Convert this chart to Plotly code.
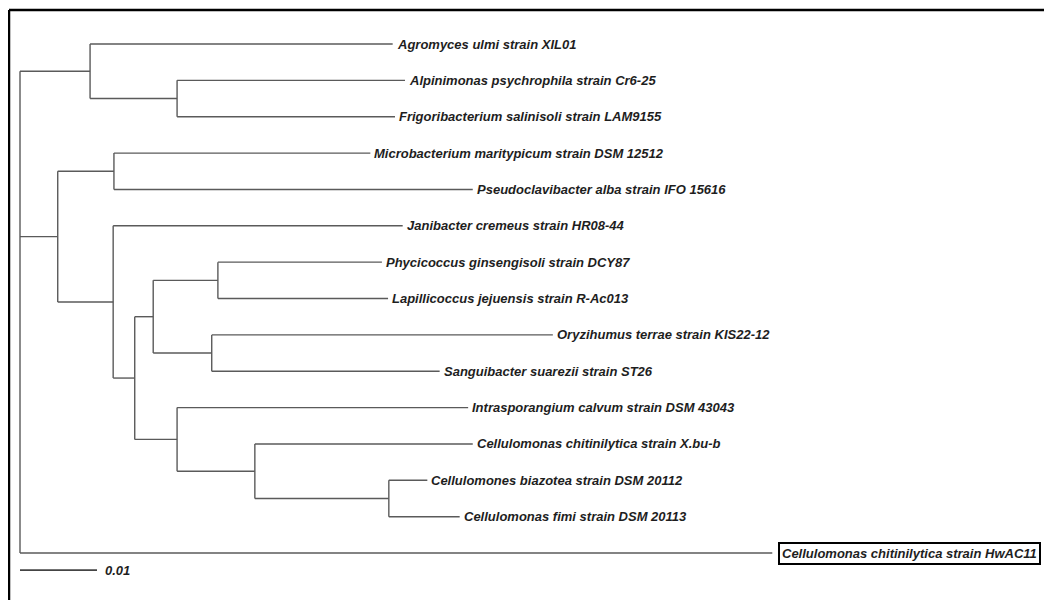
import plotly.graph_objects as go
from collections import defaultdict

# ---- data: leaves in display order (top to bottom) ----
leaf_labels = [
    "Agromyces ulmi strain XIL01",
    "Alpinimonas psychrophila strain Cr6-25",
    "Frigoribacterium salinisoli strain LAM9155",
    "Microbacterium maritypicum strain DSM 12512",
    "Pseudoclavibacter alba strain IFO 15616",
    "Janibacter cremeus strain HR08-44",
    "Phycicoccus ginsengisoli strain DCY87",
    "Lapillicoccus jejuensis strain R-Ac013",
    "Oryzihumus terrae strain KIS22-12",
    "Sanguibacter suarezii strain ST26",
    "Intrasporangium calvum strain DSM 43043",
    "Cellulomonas chitinilytica strain X.bu-b",
    "Cellulomones biazotea strain DSM 20112",
    "Cellulomonas fimi strain DSM 20113",
    "Cellulomonas chitinilytica strain HwAC11",
]
leaf_parents = ["A", "A2", "A2", "Bm", "Bm", "C", "F", "F", "G", "G", "H", "I", "J", "J", "root"]
leaf_lengths = [0.0393, 0.0296, 0.0283, 0.0333, 0.0466, 0.0376, 0.0213, 0.0221,
                0.0443, 0.0296, 0.0378, 0.0283, 0.0050, 0.0092, 0.0977]

# internal nodes
node_names = ["A", "A2", "B", "Bm", "C", "D", "E", "F", "G", "H", "I", "J"]
node_parents = ["root", "A", "root", "B", "B", "C", "D", "E", "E", "D", "H", "I"]
node_lengths = [0.0091, 0.0113, 0.0049, 0.0073, 0.0072, 0.0028, 0.0024, 0.0084,
                0.0076, 0.0055, 0.0101, 0.0174]

highlight_leaf = "Cellulomonas chitinilytica strain HwAC11"
scale_length = 0.01
scale_label = "0.01"

# ---- build tree ----
parent, length = {}, {}
children = defaultdict(list)
for n, p, l in zip(node_names + leaf_labels, node_parents + leaf_parents, node_lengths + leaf_lengths):
    parent[n] = p
    length[n] = l
    children[p].append(n)

row = {name: i for i, name in enumerate(leaf_labels)}

depth = {"root": 0.0}
def set_depth(n):
    for c in children[n]:
        depth[c] = depth[n] + length[c]
        set_depth(c)
set_depth("root")

ypos = {}
def get_y(n):
    if n in row:
        ypos[n] = row[n]
    else:
        ys = [get_y(c) for c in children[n]]
        ypos[n] = (min(ys) + max(ys)) / 2
    return ypos[n]
get_y("root")

xs, ys = [], []
for n in list(parent.keys()):
    p = parent[n]
    xs += [depth[p], depth[n], None]
    ys += [ypos[n], ypos[n], None]
for n in ["root"] + node_names:
    cy = [ypos[c] for c in children[n]]
    xs += [depth[n], depth[n], None]
    ys += [min(cy), max(cy), None]

fig = go.Figure()
fig.add_trace(go.Scatter(x=xs, y=ys, mode="lines",
                         line=dict(color="#5a5a5a", width=1.4),
                         hoverinfo="skip", showlegend=False))

# scale bar
sb_y = 14.47
fig.add_trace(go.Scatter(x=[0, scale_length], y=[sb_y, sb_y], mode="lines",
                         line=dict(color="#444444", width=1.7),
                         hoverinfo="skip", showlegend=False))

font = dict(family="Liberation Sans, Arial, sans-serif", size=13, color="#1e1e1e")
ann = []
for name in leaf_labels:
    boxed = name == highlight_leaf
    ann.append(dict(
        x=depth[name], y=ypos[name], xref="x", yref="y",
        text="<b><i>%s</i></b>" % name, showarrow=False,
        xanchor="left", yanchor="middle", xshift=6 if boxed else 3,
        font=font,
        bordercolor="#000000" if boxed else None,
        borderwidth=2 if boxed else 0,
        borderpad=2 if boxed else 1,
        bgcolor="white" if boxed else None,
    ))
ann.append(dict(x=scale_length, y=sb_y, xref="x", yref="y",
                text="<b><i>%s</i></b>" % scale_label, showarrow=False,
                xanchor="left", yanchor="middle", xshift=6, font=font))

# page body has an 8px margin: compensate in the pixel mapping
W, H = 1052, 600
x0_px, px_per_unit = 12, 7700
y0_px, px_per_row = 36, 36.36
fig.update_layout(
    width=W, height=H,
    margin=dict(l=0, r=0, t=0, b=0),
    paper_bgcolor="white", plot_bgcolor="white",
    xaxis=dict(range=[-x0_px / px_per_unit, (W - x0_px) / px_per_unit],
               visible=False, fixedrange=True),
    yaxis=dict(range=[(H - y0_px) / px_per_row, -y0_px / px_per_row],
               visible=False, fixedrange=True),
    annotations=ann,
    shapes=[
        dict(type="line", xref="paper", yref="paper",
             x0=1 / W, x1=1, y0=1 - 2 / H, y1=1 - 2 / H,
             line=dict(color="black", width=2.5)),
        dict(type="line", xref="paper", yref="paper",
             x0=1 / W, x1=1 / W, y0=1 - 2 / H, y1=0,
             line=dict(color="black", width=2.5)),
    ],
)
fig.write_html("out.html")
